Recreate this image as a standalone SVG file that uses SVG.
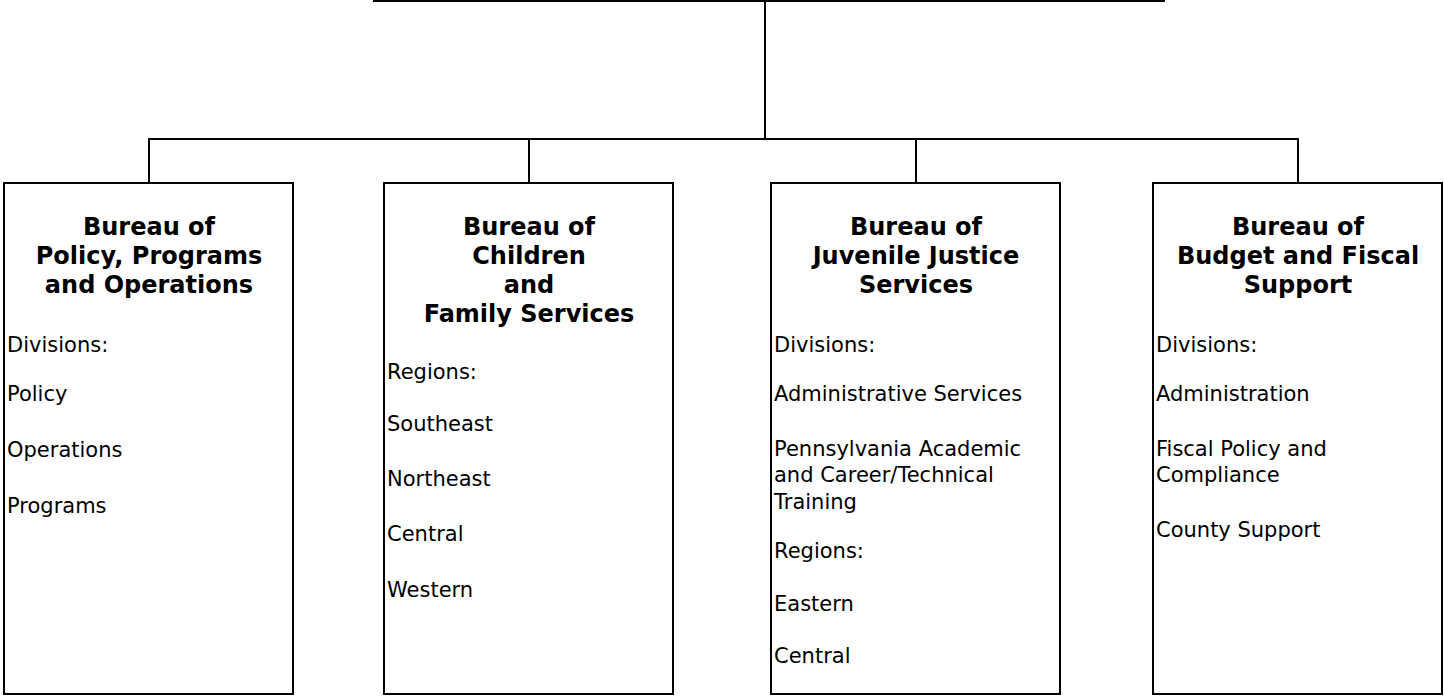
<svg xmlns="http://www.w3.org/2000/svg" width="1444" height="696" viewBox="0 0 1444 696">
<style>
.box{fill:#fff;stroke:#000;stroke-width:2}
.ln{fill:none;stroke:#000;stroke-width:2}
.t{font-family:"DejaVu Sans","Verdana",sans-serif;font-size:24px;font-weight:bold;text-anchor:middle;fill:#000}
.b{font-family:"DejaVu Sans","Verdana",sans-serif;font-size:21px;fill:#000}
</style>
<rect width="1444" height="696" fill="#fff"/>
<g id="connectors">
<path class="ln" d="M373 1 H1165"/>
<path class="ln" d="M765 0 V139"/>
<path class="ln" d="M149 183 V139 H1298 V183"/>
<path class="ln" d="M529 139 V183"/>
<path class="ln" d="M916 139 V183"/>
</g>
<g id="policy">
<rect class="box" x="4" y="183" width="289" height="511"/>
<text class="t" x="149" y="235">Bureau of</text>
<text class="t" x="149" y="264">Policy, Programs</text>
<text class="t" x="149" y="293">and Operations</text>
<text class="b" x="7" y="352">Divisions:</text>
<text class="b" x="7" y="401">Policy</text>
<text class="b" x="7" y="457">Operations</text>
<text class="b" x="7" y="513">Programs</text>
</g>
<g id="children">
<rect class="box" x="384" y="183" width="289" height="511"/>
<text class="t" x="529" y="235">Bureau of</text>
<text class="t" x="529" y="264">Children</text>
<text class="t" x="529" y="293">and</text>
<text class="t" x="529" y="322">Family Services</text>
<text class="b" x="387" y="379">Regions:</text>
<text class="b" x="387" y="431">Southeast</text>
<text class="b" x="387" y="486">Northeast</text>
<text class="b" x="387" y="541">Central</text>
<text class="b" x="387" y="597">Western</text>
</g>
<g id="juvenile">
<rect class="box" x="771" y="183" width="289" height="511"/>
<text class="t" x="916" y="235">Bureau of</text>
<text class="t" x="916" y="264">Juvenile Justice</text>
<text class="t" x="916" y="293">Services</text>
<text class="b" x="774" y="352">Divisions:</text>
<text class="b" x="774" y="401">Administrative Services</text>
<text class="b" x="774" y="456">Pennsylvania Academic</text>
<text class="b" x="774" y="482">and Career/Technical</text>
<text class="b" x="774" y="509">Training</text>
<text class="b" x="774" y="558">Regions:</text>
<text class="b" x="774" y="611">Eastern</text>
<text class="b" x="774" y="663">Central</text>
</g>
<g id="budget">
<rect class="box" x="1153" y="183" width="289" height="511"/>
<text class="t" x="1298" y="235">Bureau of</text>
<text class="t" x="1298" y="264">Budget and Fiscal</text>
<text class="t" x="1298" y="293">Support</text>
<text class="b" x="1156" y="352">Divisions:</text>
<text class="b" x="1156" y="401">Administration</text>
<text class="b" x="1156" y="456">Fiscal Policy and</text>
<text class="b" x="1156" y="482">Compliance</text>
<text class="b" x="1156" y="537">County Support</text>
</g>
</svg>
